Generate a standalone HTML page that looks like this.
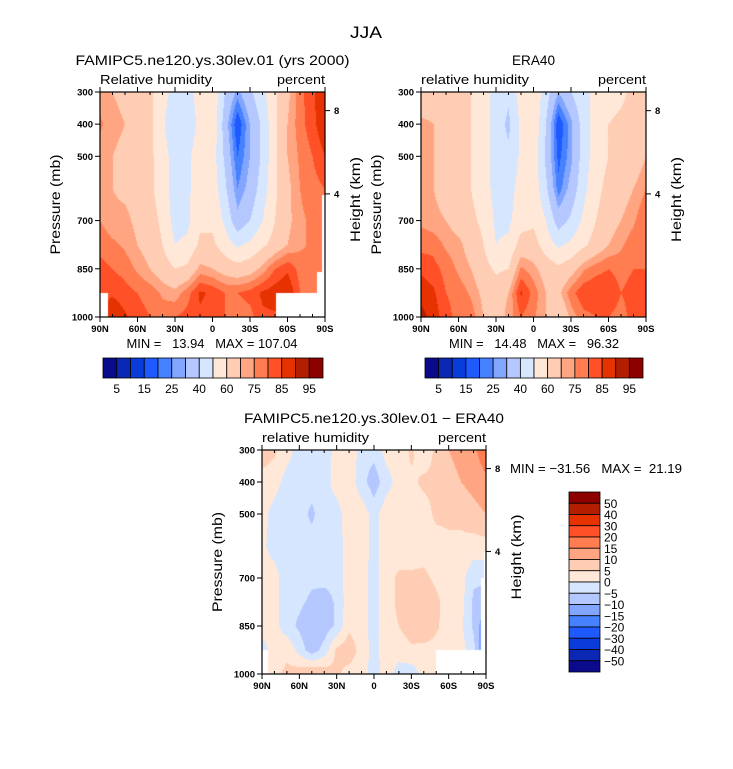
<!DOCTYPE html>
<html><head><meta charset="utf-8"><style>
html,body{margin:0;padding:0;background:#fff;}
#wrap{position:relative;width:733px;height:769px;overflow:hidden;font-family:"Liberation Sans",sans-serif;}
canvas{position:absolute;}
svg{position:absolute;left:0;top:0;}
text{font-family:"Liberation Sans",sans-serif;fill:#000;white-space:pre;}
</style></head><body>
<div id="wrap">
<canvas id="c1" style="left:100px;top:92px" width="225" height="225"></canvas>
<canvas id="c2" style="left:421px;top:92px" width="225" height="225"></canvas>
<canvas id="c3" style="left:262px;top:450px" width="224" height="224"></canvas>
<svg id="svg" width="733" height="769"></svg>
</div>
<script>
const lats=[90,80,70,60,50,40,30,20,10,0,-10,-20,-30,-40,-50,-60,-70,-80,-90];
const levels=[300,400,500,600,700,775,850,925,1000];
const model=[
[72,70,68,66,62,55,45,45,55,58,40,28,38,48,58,68,78,84,90],
[76,72,70,68,62,52,40,45,52,58,35,15,30,42,58,70,78,83,90],
[72,70,68,66,62,55,45,48,55,55,38,20,30,42,58,70,76,80,85],
[72,70,68,66,62,55,45,48,56,56,42,25,33,45,58,68,75,78,80],
[75,72,72,68,64,58,46,48,58,58,48,33,40,50,60,68,74,76,78],
[78,76,74,70,66,60,50,52,62,62,55,48,52,58,64,70,74,76,78],
[82,80,78,74,70,65,60,62,72,70,66,64,66,72,80,84,78,75,78],
[85,84,82,80,78,74,72,78,86,84,80,80,82,86,88,90,80,76,76],
[80,90,86,82,80,78,80,82,84,82,80,76,78,84,84,84,80,76,76]];
const era=[
[62,65,65,62,60,55,45,42,55,58,45,30,40,48,52,56,58,62,68],
[72,70,66,62,60,55,45,38,52,58,40,15,28,45,55,60,62,64,70],
[72,70,66,62,60,55,45,42,52,56,38,18,28,45,55,60,62,64,70],
[72,70,66,62,60,55,46,46,54,56,42,22,33,47,57,63,66,70,75],
[74,72,70,66,62,58,48,48,56,58,50,35,42,52,60,66,70,74,80],
[78,78,74,72,66,60,50,52,64,64,55,48,52,58,64,70,74,78,80],
[84,82,78,74,70,64,58,60,76,72,66,62,66,74,78,80,78,80,80],
[88,86,80,78,74,68,66,70,86,78,70,68,78,84,85,84,80,82,80],
[92,88,82,78,78,70,66,72,80,76,70,60,72,78,80,80,78,82,80]];
const diff=[
[8,6,2,-2,-2,-3,2,5,-3,-3,2,2,6,2,6,10,12,14,18],
[3,2,-2,-3,-3,-2,2,3,-3,-8,-2,2,4,6,6,8,10,12,14],
[2,-2,-3,-3,-6,-2,-2,3,3,-2,3,2,2,3,6,6,6,8,10],
[1,-2,-3,-3,-3,-2,-3,3,3,-2,3,2,2,3,3,4,4,3,3],
[2,2,-3,-3,-4,-3,-3,3,2,-2,3,6,6,6,4,3,2,-4,-4],
[2,2,-3,-4,-6,-8,-4,3,2,-2,3,6,8,10,6,3,2,-6,-8],
[2,2,-3,-6,-10,-8,-4,4,2,-2,3,5,8,10,6,2,1,-6,-15],
[-2,2,4,-2,-8,-3,6,8,3,-2,3,2,4,3,3,2,2,-3,-20],
[3,4,6,8,10,8,6,3,2,-2,2,-2,-3,2,2,2,2,2,2]];
const rhLevels=[5,10,15,20,25,30,40,50,60,70,75,80,85,90,95];
const rhLabels=["5","15","25","40","60","75","85","95"];
const diffLevels=[-50,-40,-30,-20,-15,-10,-5,0,5,10,15,20,30,40,50];
const diffLabels=["50","40","30","20","15","10","5","0","−5","−10","−15","−20","−30","−40","−50"];
const masksModel=[[90,84,925,1000],[-51,-90,925,1000],[-88,-90,620,925],[-84,-90,860,925]];
const masksDiff=[[90,85,925,1000],[-50,-90,925,1000],[-88,-90,620,700],[-86,-90,700,925]];
const palette=['#0a0a8c','#0a28b4','#0a3cdc','#1e5aff','#4682ff','#82a5ff','#b4c8ff','#d7e6ff','#ffe8d7','#ffcdb4','#ffa582','#ff7d50','#ff5028','#e63200','#b41e00','#8c0000'];
function hex(c){return [parseInt(c.substr(1,2),16),parseInt(c.substr(3,2),16),parseInt(c.substr(5,2),16)];}
function colIdx(v,lv){let i=0;while(i<lv.length&&v>=lv[i])i++;return i;}
function sample(grid,lat,p){
  let fx=(90-lat)/10;let i=Math.min(Math.floor(fx),17);let tx=fx-i;
  let j=0;while(j<levels.length-2&&p>levels[j+1])j++;
  let ty=(p-levels[j])/(levels[j+1]-levels[j]);
  let a=grid[j][i],b=grid[j][i+1],c=grid[j+1][i],d=grid[j+1][i+1];
  return (a*(1-tx)+b*tx)*(1-ty)+(c*(1-tx)+d*tx)*ty;
}
function drawField(id,grid,lv,masks){
  const cv=document.getElementById(id);const W=cv.width,H=cv.height;
  const ctx=cv.getContext('2d');const img=ctx.createImageData(W,H);
  const pal=palette.map(hex);
  for(let y=0;y<H;y++){const p=300+(y+0.5)/H*700;
    for(let x=0;x<W;x++){const lat=90-(x+0.5)/W*180;
      let masked=masks.some(m=>lat<=m[0]&&lat>=m[1]&&p>=m[2]&&p<=m[3]);
      let c=masked?[255,255,255]:pal[colIdx(sample(grid,lat,p),lv)];
      let k=(y*W+x)*4;img.data[k]=c[0];img.data[k+1]=c[1];img.data[k+2]=c[2];img.data[k+3]=255;}}
  ctx.putImageData(img,0,0);
}
drawField('c1',model,rhLevels,masksModel);
drawField('c2',era,rhLevels,[]);
drawField('c3',diff,diffLevels,masksDiff);

const svg=document.getElementById('svg');const NS='http://www.w3.org/2000/svg';
function el(tag,attrs,txt){const e=document.createElementNS(NS,tag);for(const k in attrs)e.setAttribute(k,attrs[k]);if(txt!==undefined)e.textContent=txt;svg.appendChild(e);return e;}
function txt(x,y,s,size,anchor,name,rot,len){const t=el('text',{x:x,y:y,'font-size':size,'text-anchor':anchor||'start'},s);
  if(rot)t.setAttribute('transform','rotate(-90 '+x+' '+y+')');
  if(len){t.setAttribute('textLength',len);t.setAttribute('lengthAdjust','spacingAndGlyphs');}

return t;}
const latTicks=[90,60,30,0,-30,-60,-90];const latLabels=["90N","60N","30N","0","30S","60S","90S"];
const pTicks=[300,400,500,700,850,1000];
function panel(L,T,W,H,title,titleLen,sub,subLen,prefix){
  const b=el('rect',{x:L,y:T,width:W,height:H,fill:'none',stroke:'#000','stroke-width':1.2});
  
  
  const X=lat=>L+(90-lat)/180*W, Y=p=>T+(p-300)/700*H;
  for(let lat=90;lat>=-90;lat-=10){const x=X(lat);const major=lat%30===0;
    el('line',{x1:x,y1:T+H,x2:x,y2:T+H+(major?5:-3),stroke:'#000'});
    el('line',{x1:x,y1:T,x2:x,y2:T-(major?5:-3),stroke:'#000'});}
  latTicks.forEach((lat,i)=>txt(X(lat),T+H+15,latLabels[i],9.5,'middle',prefix+'-x-tick-label').setAttribute('font-weight','bold'));
  pTicks.forEach(p=>{el('line',{x1:L-5,y1:Y(p),x2:L,y2:Y(p),stroke:'#000'});
    txt(L-7,Y(p)+3.5,String(p),9.5,'end',prefix+'-y-tick-label').setAttribute('font-weight','bold');});
  [[358,"8"],[617,"4"]].forEach(h=>{el('line',{x1:L+W,y1:Y(h[0]),x2:L+W+5,y2:Y(h[0]),stroke:'#000'});
    txt(L+W+9,Y(h[0])+3.5,h[1],9.5,'start',prefix+'-height-tick-label').setAttribute('font-weight','bold');});
  txt(L-40,T+H/2,'Pressure (mb)',14,'middle',prefix+'-y-axis-title',true,100);
  txt(L+W+35,T+H/2-5,'Height (km)',14,'middle',prefix+'-right-axis-title',true,85);
  txt(L+W/2,T-27,title,14,'middle',prefix+'-title',false,titleLen);
  txt(L,T-8,sub,13,'start',prefix+'-variable-label',false,subLen);
  txt(L+W,T-8,'percent',13,'end',prefix+'-units-label',false,48);
}
txt(366,38,'JJA',17,'middle','figure-title',false,32);
panel(100,92,225,225,'FAMIPC5.ne120.ys.30lev.01 (yrs 2000)',274,'Relative humidity',112,'model');
panel(421,92,225,225,'ERA40',43,'relative humidity',108,'era40');
panel(262,450,224,224,'FAMIPC5.ne120.ys.30lev.01 − ERA40',260,'relative humidity',107,'diff');
txt(212,348,'MIN =   13.94   MAX = 107.04',13,'middle','model-min-max',false,171);
txt(534,348,'MIN =   14.48   MAX =   96.32',13,'middle','era40-min-max',false,170);
txt(510,473,'MIN = −31.56   MAX =  21.19',13,'start','diff-min-max',false,172);
function hbar(L,T,W,H,prefix){const bw=W/16;
  palette.forEach((c,i)=>{const r=el('rect',{x:L+i*bw,y:T,width:bw,height:H,fill:c,stroke:'#000','stroke-width':0.8});
    
    });
  rhLabels.forEach((s,i)=>txt(L+(2*i+1)*bw,T+H+15,s,12,'middle',prefix+'-colorbar-label'));
}
hbar(103,358,220,20,'model');hbar(425,358,218,20,'era40');
(function(){const L=569,T=492,W=31,H=180,bh=H/16;
  palette.slice().reverse().forEach((c,i)=>{const r=el('rect',{x:L,y:T+i*bh,width:W,height:bh,fill:c,stroke:'#000','stroke-width':0.8});
    
    });
  diffLabels.forEach((s,i)=>txt(L+W+4,T+(i+1)*bh+4.5,s,12,'start','diff-colorbar-label'));
})();
</script>
</body></html>
